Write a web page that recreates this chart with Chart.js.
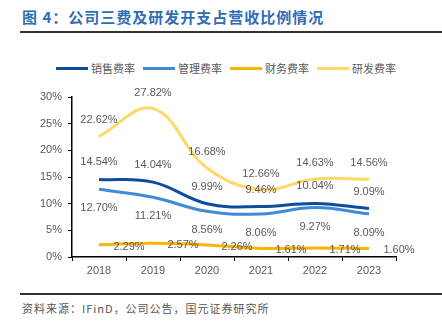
<!DOCTYPE html>
<html>
<head>
<meta charset="utf-8">
<script src="https://cdn.jsdelivr.net/npm/chart.js@4.4.0/dist/chart.umd.min.js"></script>
<style>
  body { margin: 0; width: 442px; height: 327px; background: #fff; position: relative; overflow: hidden; font-family: "Noto Sans CJK SC", sans-serif; }
  #title { position: absolute; left: 22px; top: 6px; font-size: 15px; font-weight: bold; color: #2F6DB5; letter-spacing: 1px; line-height: 22px; white-space: nowrap; }
  .rule { position: absolute; left: 20px; right: 0; height: 2px; background: #333; }
  #legend { position: absolute; top: 60px; left: 56px; width: 380px; height: 16px; display: flex; align-items: center; font-size: 11px; color: #595959; line-height: 16px; white-space: nowrap; }
  .item { display: flex; align-items: center; margin-right: 8px; flex: none; }
  .swatch { width: 32px; height: 3px; margin-right: 3px; flex: none; }
  #chartBox { position: absolute; left: 0; top: 75px; width: 442px; height: 210px; }
  #source { position: absolute; left: 22px; top: 300px; font-size: 11px; color: #555; letter-spacing: 1px; line-height: 16px; white-space: nowrap; }
</style>
</head>
<body>
<div id="title">图 4：公司三费及研发开支占营收比例情况</div>
<div class="rule" style="top:31px"></div>
<div id="legend"></div>
<div id="chartBox"><canvas id="ratioChart" width="442" height="210"></canvas></div>
<div class="rule" style="top:293px"></div>
<div id="source">资料来源：IFinD，公司公告，国元证券研究所</div>

<script>
// 数据
const years = ['2018', '2019', '2020', '2021', '2022', '2023'];
const seriesNames = ['销售费率', '管理费率', '财务费率', '研发费率'];
const salesRate = [14.54, 14.04, 9.99, 9.46, 10.04, 9.09];
const adminRate = [12.70, 11.21, 8.56, 8.06, 9.27, 8.09];
const financeRate = [2.29, 2.57, 2.26, 1.61, 1.71, 1.60];
const rdRate = [22.62, 27.82, 16.68, 12.66, 14.63, 14.56];
const yTicks = [0, 5, 10, 15, 20, 25, 30];

const colors = ['#0E4C9E', '#3F8BD8', '#F8B400', '#FFD966'];
// 数据标签偏移 [dx, dy]
const labelOffsets = [[0, -17], [0, 19], [30, 2], [0, -16]];

// 图例 (HTML)
const legendEl = document.getElementById('legend');
seriesNames.forEach((name, i) => {
    const item = document.createElement('div');
    item.className = 'item';
    item.innerHTML = '<span class="swatch" style="background:' + colors[i] + '"></span><span>' + name + '</span>';
    legendEl.appendChild(item);
});

// 数据标签插件
const pointLabels = {
    id: 'pointLabels',
    afterDatasetsDraw(chart) {
        const ctx = chart.ctx;
        ctx.save();
        ctx.font = '11px "Liberation Sans", Arial, sans-serif';
        ctx.fillStyle = '#595959';
        ctx.textAlign = 'center';
        ctx.textBaseline = 'middle';
        chart.data.datasets.forEach((ds, i) => {
            const meta = chart.getDatasetMeta(i);
            const off = labelOffsets[i];
            meta.data.forEach((pt, j) => {
                ctx.fillText(ds.data[j].toFixed(2) + '%', pt.x + off[0], pt.y + off[1]);
            });
        });
        ctx.restore();
    }
};

const allSeries = [salesRate, adminRate, financeRate, rdRate];

new Chart(document.getElementById('ratioChart').getContext('2d'), {
    type: 'line',
    data: {
        labels: years,
        datasets: allSeries.map((d, i) => ({
            label: seriesNames[i],
            data: d,
            borderColor: colors[i],
            backgroundColor: colors[i],
            borderWidth: 3,
            pointRadius: 0,
            tension: 0.4,
            fill: false,
            order: i === 3 ? 4 : i
        }))
    },
    options: {
        responsive: false,
        animation: false,
        layout: { padding: { top: 22, right: 46, bottom: 0, left: 0 } },
        plugins: { legend: { display: false }, tooltip: { enabled: false } },
        scales: {
            x: {
                offset: true,
                grid: { drawOnChartArea: false, drawTicks: true, tickLength: 4, color: '#000', offset: true },
                border: { display: true, color: '#000', width: 1.5 },
                ticks: { color: '#595959', font: { size: 11, family: '"Liberation Sans", Arial, sans-serif' }, padding: 3, maxRotation: 0 },
                afterFit(scale) { scale.height = 28; }
            },
            y: {
                min: 0,
                max: 30,
                grid: { drawOnChartArea: false, drawTicks: true, tickLength: 4, color: '#000' },
                border: { display: true, color: '#000', width: 1.5 },
                ticks: {
                    stepSize: 5,
                    color: '#595959',
                    padding: 6,
                    font: { size: 11, family: '"Liberation Sans", Arial, sans-serif' },
                    callback: v => yTicks.includes(v) ? v + '%' : ''
                },
                afterFit(scale) { scale.width = 72; }
            }
        }
    },
    plugins: [pointLabels]
});
</script>
</body>
</html>
